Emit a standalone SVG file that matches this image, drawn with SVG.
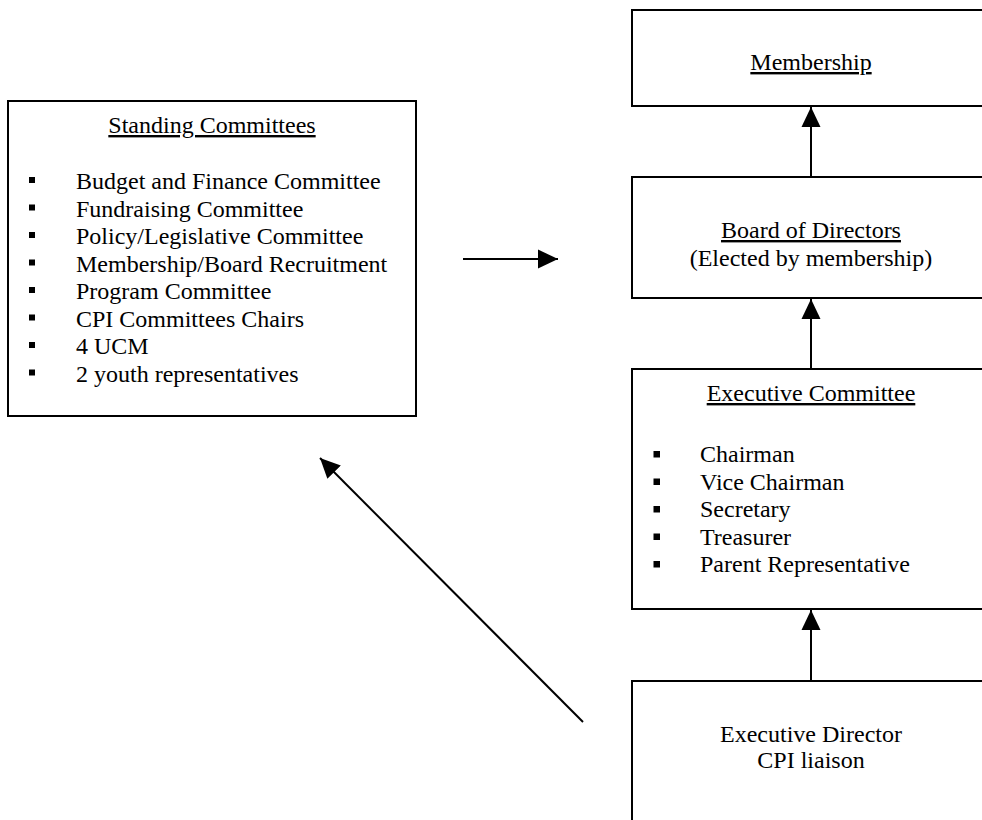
<svg xmlns="http://www.w3.org/2000/svg" width="982" height="820" viewBox="0 0 982 820">
<style>
.box{fill:#fff;stroke:#000;stroke-width:2}
.t{font-family:"Liberation Serif","Times New Roman",serif;font-size:24px;fill:#000}
.c{text-anchor:middle}
.u{text-decoration:underline}
.b{fill:#000}
.conn{stroke:#000;stroke-width:2;fill:none}
</style>
<defs>
<marker id="ah" markerUnits="userSpaceOnUse" markerWidth="22" markerHeight="22" refX="20" refY="10" orient="auto" viewBox="0 0 22 22">
<path d="M0,0.5 L20,10 L0,19.5 z" fill="#000"/>
</marker>
</defs>
<rect x="0" y="0" width="982" height="820" fill="#fff"/>

<g id="standing">
<rect class="box" x="8" y="101" width="408" height="315"/>
<text class="t c u" x="212" y="133">Standing Committees</text>
<g class="b">
<rect x="29" y="177" width="6" height="6"/>
<rect x="29" y="204.5" width="6" height="6"/>
<rect x="29" y="232" width="6" height="6"/>
<rect x="29" y="259.5" width="6" height="6"/>
<rect x="29" y="287" width="6" height="6"/>
<rect x="29" y="314.5" width="6" height="6"/>
<rect x="29" y="342" width="6" height="6"/>
<rect x="29" y="369.5" width="6" height="6"/>
</g>
<text class="t" x="76" y="189">Budget and Finance Committee</text>
<text class="t" x="76" y="216.5">Fundraising Committee</text>
<text class="t" x="76" y="244">Policy/Legislative Committee</text>
<text class="t" x="76" y="271.5">Membership/Board Recruitment</text>
<text class="t" x="76" y="299">Program Committee</text>
<text class="t" x="76" y="326.5">CPI Committees Chairs</text>
<text class="t" x="76" y="354">4 UCM</text>
<text class="t" x="76" y="381.5">2 youth representatives</text>
</g>

<g id="membership">
<rect class="box" x="632" y="10" width="358" height="96"/>
<text class="t c u" x="811" y="70">Membership</text>
</g>

<g id="board">
<rect class="box" x="632" y="177" width="358" height="121"/>
<text class="t c u" x="811" y="238">Board of Directors</text>
<text class="t c" x="811" y="265.5">(Elected by membership)</text>
</g>

<g id="executive">
<rect class="box" x="632" y="369" width="358" height="240"/>
<text class="t c u" x="811" y="401">Executive Committee</text>
<g class="b">
<rect x="653.5" y="451" width="6.5" height="6.5"/>
<rect x="653.5" y="478.5" width="6.5" height="6.5"/>
<rect x="653.5" y="506" width="6.5" height="6.5"/>
<rect x="653.5" y="533.5" width="6.5" height="6.5"/>
<rect x="653.5" y="561" width="6.5" height="6.5"/>
</g>
<text class="t" x="700" y="462">Chairman</text>
<text class="t" x="700" y="489.5">Vice Chairman</text>
<text class="t" x="700" y="517">Secretary</text>
<text class="t" x="700" y="544.5">Treasurer</text>
<text class="t" x="700" y="572">Parent Representative</text>
</g>

<g id="director">
<rect class="box" x="632" y="681" width="358" height="160"/>
<text class="t c" x="811" y="742">Executive Director</text>
<text class="t c" x="811" y="768">CPI liaison</text>
</g>

<g id="connectors">
<line class="conn" x1="811" y1="177" x2="811" y2="107" marker-end="url(#ah)"/>
<line class="conn" x1="811" y1="369" x2="811" y2="299" marker-end="url(#ah)"/>
<line class="conn" x1="811" y1="681" x2="811" y2="610" marker-end="url(#ah)"/>
<line class="conn" x1="463" y1="259" x2="558" y2="259" marker-end="url(#ah)"/>
<line class="conn" x1="583" y1="722" x2="320" y2="458" marker-end="url(#ah)"/>
</g>
</svg>
